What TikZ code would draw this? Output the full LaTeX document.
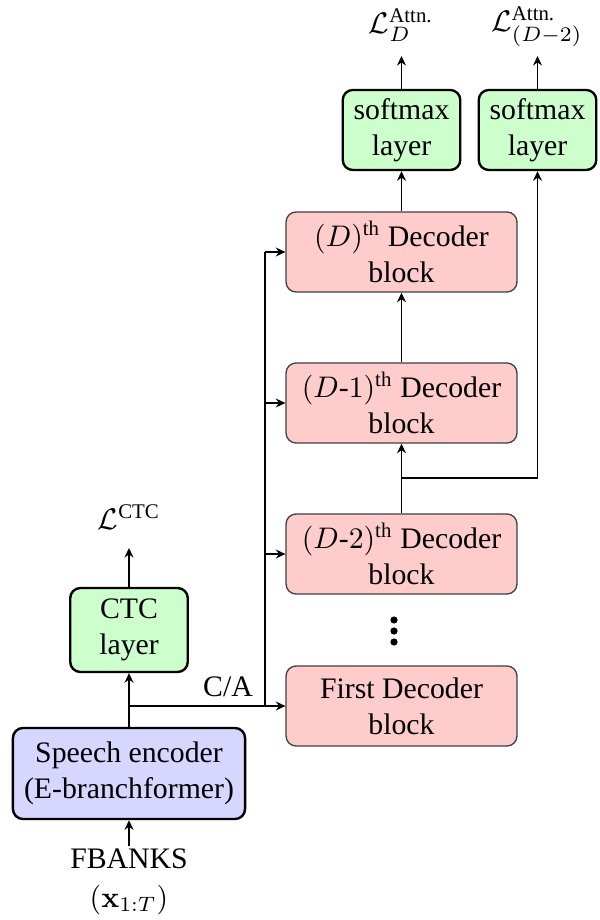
\documentclass[tikz,border=0pt]{standalone}
\usepackage{amsmath}
\usepackage[no-math]{fontspec}
\setmainfont{Liberation Serif}
\usetikzlibrary{arrows.meta}
\tikzset{
  dec/.style={draw=black!75, line width=0.45pt, fill=red!20, rounded corners=3.4pt,
    minimum width=77.6pt, minimum height=26.9pt, inner sep=0pt, align=center},
  grn/.style={draw=black, line width=0.8pt, fill=green!20, rounded corners=3.4pt,
    minimum width=39.5pt, minimum height=26.9pt, inner sep=0pt, align=center},
  enc/.style={draw=black, line width=0.8pt, fill=blue!16, rounded corners=3.4pt,
    minimum width=78pt, minimum height=30.6pt, inner sep=0pt, align=center},
  lbl/.style={inner sep=0pt, align=center},
  dotc/.style={fill=black},
  conn/.style={line width=0.5pt, -{Stealth[length=3.2pt,width=3pt]}},
  wire/.style={line width=0.5pt}
}
\begin{document}
\begin{tikzpicture}[x=0.336pt, y=-0.336pt, font=\fontsize{10pt}{12pt}\selectfont]
\useasboundingbox (0,0) rectangle (599,920);
% decoder blocks
\node[dec] (dD)  at (401.5,252) {$(D)^{\text{th}}$ Decoder\\block};
\node[dec] (dD1) at (401.5,403) {$(D$-$1)^{\text{th}}$ Decoder\\block};
\node[dec] (dD2) at (401.5,554) {$(D$-$2)^{\text{th}}$ Decoder\\block};
\node[dec] (d1)  at (401.5,706) {First Decoder\\block};
% vertical dots
\fill[dotc] (394,620) circle (3.6);
\fill[dotc] (394,631) circle (3.6);
\fill[dotc] (394,642) circle (3.6);
% softmax
\node[grn] (s1) at (401.5,130) {softmax\\layer};
\node[grn] (s2) at (537.5,130) {softmax\\layer};
\node[lbl] (L1) at (401,25) {$\mathcal{L}_{D}^{\text{Attn.}}$};
\node[lbl] (L2) at (537,27) {$\mathcal{L}_{(D-2)}^{\text{Attn.}}$};
% encoder side
\node[enc] (enc) at (129,773.5) {Speech encoder\\(E-branchformer)};
\node[grn, minimum height=28.2pt] (ctc) at (129,630) {CTC\\layer};
\node[lbl] (Lc) at (129,517) {$\mathcal{L}^{\text{CTC}}$};
\node[lbl] (fb) at (129,882) {FBANKS\\[1pt]$(\mathbf{x}_{1:T})$};
\node[lbl] (ca) at (228,687) {C/A};
\coordinate (br) at (129,706);
\coordinate (vx) at (265,706);
\coordinate (vtop) at (265,252);
\coordinate (sp) at (401.5,478);
\coordinate (sr) at (537.5,478);
% connectors
\draw[conn] (129,846) -- (enc.south);
\draw[conn] (enc.north) -- (ctc.south);
\draw[conn] (ctc.north) -- (129,548);
\draw[conn] (br) -- (d1.west);
\draw[wire] (vx) -- (vtop);
\draw[conn] (vtop) -- (dD.west);
\draw[conn] (265,403) -- (dD1.west);
\draw[conn] (265,554) -- (dD2.west);
\draw[conn] (dD2.north) -- (dD1.south);
\draw[wire] (sp) -- (sr);
\draw[conn] (sr) -- (s2.south);
\draw[conn] (dD1.north) -- (dD.south);
\draw[conn] (dD.north) -- (s1.south);
\draw[conn] (s1.north) -- (401.5,56);
\draw[conn] (s2.north) -- (537.5,56);
\end{tikzpicture}
\end{document}
